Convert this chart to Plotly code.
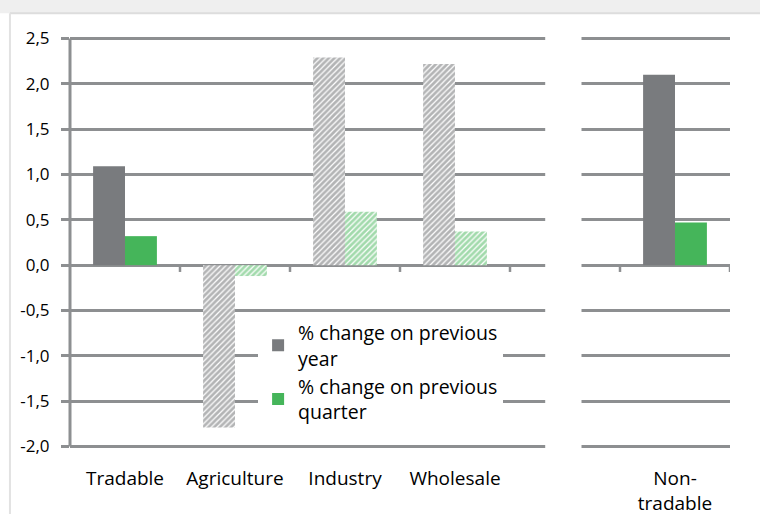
import plotly.graph_objects as go

# categories (the blank one separates the tradable and non-tradable panels)
categories = ["Tradable", "Agriculture", "Industry", "Wholesale", " ", "Non-<br>tradable"]
change_prev_year = [1.09, -1.79, 2.29, 2.22, None, 2.10]
change_prev_quarter = [0.32, -0.12, 0.59, 0.37, None, 0.47]

y_ticks = [-2.0, -1.5, -1.0, -0.5, 0.0, 0.5, 1.0, 1.5, 2.0, 2.5]
y_tick_labels = ["-2,0", "-1,5", "-1,0", "-0,5", "0,0", "0,5", "1,0", "1,5", "2,0", "2,5"]

GREY = "#797b7e"
HATCH_GREY = "#67696c"
GREEN = "#45b55a"
GRID = "#8d8f91"
FONT = "Open Sans"

# sub-sectors are drawn hatched, aggregates solid
hatch = ["", "/", "/", "/", "", ""]

fig = go.Figure()
fig.add_trace(go.Bar(
    x=categories, y=change_prev_year,
    name="% change on previous<br>year",
    marker=dict(color=GREY, line=dict(width=0),
                pattern=dict(shape=hatch, fgcolor=HATCH_GREY, bgcolor="white",
                             size=4, solidity=0.7)),
))
fig.add_trace(go.Bar(
    x=categories, y=change_prev_quarter,
    name="% change on previous<br>quarter",
    marker=dict(color=GREEN, line=dict(width=0),
                pattern=dict(shape=hatch, fgcolor=GREEN, bgcolor="white",
                             size=4, solidity=0.7)),
))

shapes = []
# y axis line, only between the first and last gridline
shapes.append(dict(type="line", xref="paper", yref="y", x0=0, x1=0,
                   y0=y_ticks[0], y1=y_ticks[-1], line=dict(color=GRID, width=3)))
# little ticks on the zero line at the category boundaries
for i in range(1, len(categories) + 1):
    shapes.append(dict(type="line", xref="x", yref="y", x0=i - 0.5, x1=i - 0.5,
                       y0=0, y1=-0.075, line=dict(color=GRID, width=2.5)))
# white gap between the two panels
shapes.append(dict(type="rect", xref="x", yref="paper", x0=3.82, x1=4.15,
                   y0=-0.03, y1=1.03, fillcolor="white", line=dict(width=0),
                   layer="above"))
# faint frame shadow of the original picture
shapes.append(dict(type="rect", xref="paper", yref="paper", x0=-0.2, x1=1.2,
                   y0=1.050, y1=1.2, fillcolor="#efefef", line=dict(width=0)))
shapes.append(dict(type="line", xref="paper", yref="paper", x0=-0.091, x1=1.2,
                   y0=1.050, y1=1.050, line=dict(color="#dddddd", width=2)))
shapes.append(dict(type="line", xref="paper", yref="paper", x0=-0.091, x1=-0.091,
                   y0=-0.3, y1=1.050, line=dict(color="#e2e2e2", width=2)))

fig.update_layout(
    width=760, height=514,
    margin=dict(l=70, r=30, t=34, b=63),
    paper_bgcolor="white", plot_bgcolor="white",
    font=dict(family=FONT, size=19, color="black"),
    barmode="group", bargap=0.42, bargroupgap=0,
    showlegend=True,
    legend=dict(x=0.285, y=0.33, xanchor="left", yanchor="top",
                bgcolor="white", font=dict(size=19.5), tracegroupgap=0,
                itemwidth=30),
    shapes=shapes,
)
fig.update_xaxes(
    range=[-0.5, 5.5], showgrid=False, showline=False, zeroline=False,
    ticks="outside", ticklen=10, tickcolor="rgba(0,0,0,0)",
    tickfont=dict(size=19), automargin=False,
)
fig.update_yaxes(
    range=[-2.05, 2.55], tickvals=y_ticks, ticktext=y_tick_labels,
    showgrid=True, gridcolor=GRID, gridwidth=3,
    zeroline=True, zerolinecolor=GRID, zerolinewidth=3,
    showline=False, automargin=False,
    ticks="outside", ticklen=8, tickwidth=3, tickcolor=GRID,
    tickfont=dict(size=17), ticklabelstandoff=8,
)

# the page's default body margin would shift the whole chart by 8px
fig.write_html("out.html", config={"displayModeBar": False},
               post_script="document.body.style.margin = '0px';")
